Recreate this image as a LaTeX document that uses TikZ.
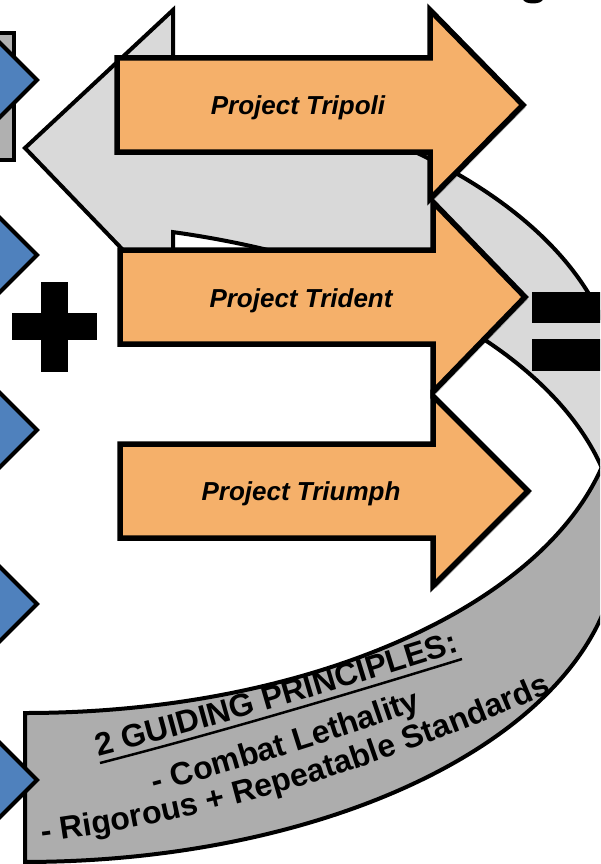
\documentclass[tikz,border=0pt]{standalone}
\usepackage{fontspec}
\setmainfont{Liberation Sans}
\usetikzlibrary{decorations.text,shadows}
\definecolor{projorange}{RGB}{245,176,106}
\definecolor{stepblue}{RGB}{79,129,189}
\definecolor{frontgray}{RGB}{217,217,217}
\definecolor{backgray}{RGB}{173,173,173}
\definecolor{tabgray}{RGB}{176,176,176}
\newcommand\principlefont{\fontsize{32}{37}\selectfont\bfseries}
\tikzset{
    projarrow/.style={draw=black,line width=5.5pt,fill=projorange,line join=miter,
        drop shadow={shadow xshift=2.5pt,shadow yshift=-2.5pt,opacity=.25,fill=black}},
    projlabel/.style={anchor=base,font=\fontsize{26}{30}\selectfont\bfseries\itshape},
    ribbon/.style={draw=black,line width=4pt,line join=miter},
    stepmark/.style={draw=black,line width=4pt,fill=stepblue,line join=miter},
    tabbox/.style={draw=black,line width=4pt,fill=tabgray},
    bigsign/.style={fill=black},
    underbar/.style={line width=2.5pt}
}

\begin{document}
\begin{tikzpicture}[x=1pt,y=-1pt]
    \useasboundingbox (0,0) rectangle (600,864);
    \clip (0,0) rectangle (600,864);
    \fill[white] (0,0) rectangle (600,864);

    % Curved ribbon: back face (two shifted ellipses)
    \draw[ribbon,fill=backgray] (25,713)
        arc[start angle=90,end angle=13.46,x radius=593,y radius=320]
        arc[start angle=-13.46,end angle=90,x radius=593,y radius=320]
        -- cycle;
    % Curved ribbon: front face with the head
    \draw[ribbon,fill=frontgray] (173,10) -- (25,148) -- (173,302) -- (173,232.1)
        arc[start angle=-75.55,end angle=-13.46,x radius=593,y radius=320]
        arc[start angle=13.46,end angle=-75.55,x radius=593,y radius=320]
        -- cycle;

    % Principles on the back face
    \path[decorate,decoration={text along path,text align=center,
        text={|\principlefont|2 GUIDING PRINCIPLES:}}]
        (90,758.5) .. controls (204,729.3) and (323.3,694.7) .. (468,649);
    \draw[underbar] (100,763) .. controls (204,736.3) and (323.3,701.7) .. (462,659);
    \path[decorate,decoration={text along path,text align=center,
        text={|\principlefont|- Combat Lethality}}]
        (146,795) .. controls (244,768.7) and (332,741.3) .. (430,706.5);
    \path[decorate,decoration={text along path,text align=center,
        text={|\principlefont|- Rigorous + Repeatable Standards}}]
        (34,843.2) .. controls (201.7,822.6) and (370.4,772.9) .. (559,688.9);

    % Tab and step marks on the left
    \draw[tabbox] (-10,33) rectangle (14,160);
    \foreach \y in {80,255,430,604,780}
        \draw[stepmark] (-60,\y-42) -- (-5,\y-42) -- (37,\y) -- (-5,\y+42) -- (-60,\y+42) -- cycle;

    % Tripoli
    \draw[projarrow] (117,58) -- (430,58) -- (430,10) -- (523,105) -- (430,199) -- (430,152) -- (117,152) -- cycle;
    \node[projlabel] (tripoli) at (298,115) {Project Tripoli};
    % Trident
    \draw[projarrow] (120,250) -- (433,250) -- (433,202) -- (525,297) -- (433,392) -- (433,344) -- (120,344) -- cycle;
    \node[projlabel] (trident) at (301,307) {Project Trident};
    % Triumph
    \draw[projarrow] (120,444) -- (433,444) -- (433,396) -- (528,491) -- (433,586) -- (433,538) -- (120,538) -- cycle;
    \node[projlabel] (triumph) at (301,500) {Project Triumph};

    % Plus
    \fill[bigsign] (41,282) rectangle (68,372);
    \fill[bigsign] (12,313) rectangle (97,340);
    % Equals
    \fill[bigsign] (532,292) rectangle (610,323);
    \fill[bigsign] (532,339) rectangle (610,371);
    % Title letter tail
    \fill[bigsign] (533,-1) ellipse [x radius=10,y radius=4.5];
\end{tikzpicture}
\end{document}
